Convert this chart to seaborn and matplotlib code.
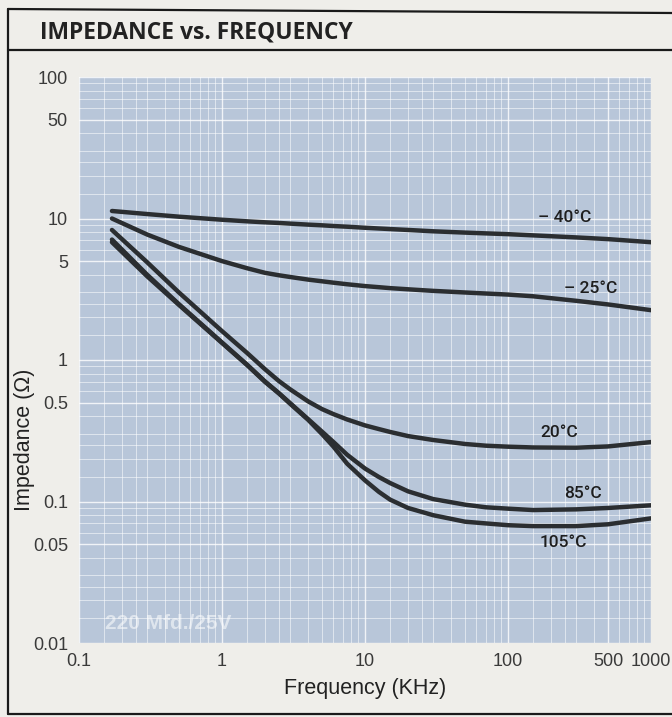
import numpy as np
import pandas as pd
import matplotlib.pyplot as plt
import seaborn as sns
from matplotlib.lines import Line2D
from matplotlib.ticker import LogLocator, NullFormatter

# Impedance readings (ohm) per temperature
freq_khz = [0.17, 0.3, 0.5, 1, 1.5, 2, 2.5, 3, 4, 5, 6, 7.5, 10, 12.5, 15, 20, 30, 50, 70, 100, 150, 300, 500, 1000]
z_minus40 = [11.3, 10.75, 10.3, 9.8, 9.55, 9.4, 9.3, 9.2, 9.05, 8.95, 8.85, 8.75, 8.6, 8.5, 8.42, 8.3, 8.12,
             7.95, 7.85, 7.75, 7.6, 7.35, 7.15, 6.8]
z_minus25 = [10.0, 7.7, 6.3, 5.0, 4.45, 4.13, 3.97, 3.86, 3.7, 3.6, 3.52, 3.43, 3.33, 3.27, 3.22, 3.16, 3.08,
             3.0, 2.95, 2.9, 2.82, 2.62, 2.47, 2.25]
z_20 = [8.3, 4.9, 3.0, 1.6, 1.12, 0.86, 0.71, 0.62, 0.51, 0.45, 0.415, 0.38, 0.345, 0.325, 0.31, 0.29, 0.272,
        0.255, 0.248, 0.244, 0.241, 0.240, 0.245, 0.263]
z_85 = [7.1, 4.0, 2.48, 1.33, 0.925, 0.705, 0.583, 0.495, 0.382, 0.312, 0.264, 0.214, 0.171, 0.149, 0.135,
        0.118, 0.104, 0.095, 0.091, 0.089, 0.087, 0.088, 0.090, 0.094]
z_105 = [6.8, 3.9, 2.45, 1.32, 0.92, 0.70, 0.58, 0.49, 0.378, 0.30, 0.245, 0.185, 0.141, 0.117, 0.103,
         0.090, 0.080, 0.072, 0.070, 0.068, 0.067, 0.067, 0.069, 0.076]

temps = ["– 40°C", "– 25°C", "20°C", "85°C", "105°C"]
# where each curve label sits (freq, impedance)
label_pos = [(250, 10.2), (380, 3.2), (228, 0.305), (334, 0.113), (243, 0.051)]

x_ticks = [0.1, 1, 10, 100, 500, 1000]
x_ticklabels = ["0.1", "1", "10", "100", "500", "1000"]
y_ticks = [0.01, 0.05, 0.1, 0.5, 1, 5, 10, 50, 100]
y_ticklabels = ["0.01", "0.05", "0.1", "0.5", "1", "5", "10", "50", "100"]

paper = "#efeeea"
panel = "#b8c6d9"
ink = "#2b2e31"

rows = []
for t, z in zip(temps, [z_minus40, z_minus25, z_20, z_85, z_105]):
    for f, v in zip(freq_khz, z):
        rows.append({"freq": f, "impedance": v, "temp": t})
df = pd.DataFrame(rows)

sns.set_theme(style="white")
plt.rcParams["font.family"] = ["Liberation Sans", "DejaVu Sans"]

fig = plt.figure(figsize=(6.72, 7.17), dpi=100, facecolor=paper)
ax = fig.add_axes([79 / 672, 1 - 643 / 717, 572 / 672, 566 / 717])
ax.set_facecolor(panel)

sns.lineplot(data=df, x="freq", y="impedance", hue="temp", palette=[ink] * 5,
             linewidth=3.2, legend=False, ax=ax)

ax.set_xscale("log")
ax.set_yscale("log")
ax.set_xlim(0.1, 1000)
ax.set_ylim(0.01, 100)

ax.set_xticks(x_ticks)
ax.set_xticklabels(x_ticklabels)
ax.set_yticks(y_ticks)
ax.set_yticklabels(y_ticklabels)
subs = [1.5, 2, 2.5, 3, 4, 5, 6, 7, 8, 9]
ax.xaxis.set_minor_locator(LogLocator(base=10, subs=subs))
ax.yaxis.set_minor_locator(LogLocator(base=10, subs=subs))
ax.xaxis.set_minor_formatter(NullFormatter())
ax.yaxis.set_minor_formatter(NullFormatter())

ax.grid(True, which="major", color="white", linewidth=1.0, alpha=0.8)
ax.grid(True, which="minor", color="white", linewidth=0.7, alpha=0.55)
ax.tick_params(which="both", length=0, labelsize=13, colors="#3a3a3a")
ax.tick_params(axis="y", pad=8)
ax.tick_params(axis="x", pad=7)
for s in ax.spines.values():
    s.set_visible(False)

ax.set_xlabel("Frequency (KHz)", fontsize=15.5, color="#222222", labelpad=6)
ax.set_ylabel("Impedance (Ω)", fontsize=15.5, color="#222222")
ax.yaxis.set_label_coords(-0.077, 0.359)

for t, (fx, fy) in zip(temps, label_pos):
    ax.text(fx, fy, t, ha="center", va="center", fontsize=12.5, color="#1e1e1e",
            fontweight="medium", family=["Roboto", "DejaVu Sans"])

ax.text(0.045, 0.035, "220 Mfd./25V", transform=ax.transAxes, fontsize=15,
        fontweight="bold", color="white", alpha=0.55, ha="left", va="center")

# title box frame
frame = dict(color="#1a1a1a", linewidth=1.6, transform=fig.transFigure)
fig.add_artist(Line2D([8 / 672, 1], [1 - 9 / 717, 1 - 13 / 717], **frame))
fig.add_artist(Line2D([8 / 672, 1], [1 - 50 / 717, 1 - 50 / 717], **frame))
fig.add_artist(Line2D([8 / 672, 8 / 672], [1 - 9 / 717, 1 - 714 / 717], **frame))
fig.add_artist(Line2D([8 / 672, 1], [1 - 714 / 717, 1 - 714 / 717], **frame))
fig.text(40 / 672, 1 - 32 / 717, "IMPEDANCE vs. FREQUENCY", fontsize=16.5,
         fontweight="bold", color="#222222", ha="left", va="center",
         family=["Open Sans", "DejaVu Sans"])

fig.savefig("out.png", dpi=100, facecolor=paper)
